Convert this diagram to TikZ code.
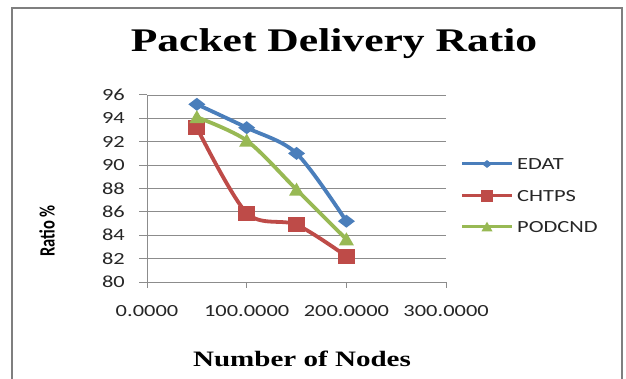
\documentclass[tikz,border=0pt]{standalone}
\usepackage{fontspec}
\usepackage{graphicx}
\setmainfont{Liberation Serif}
\newfontfamily\calfont{Carlito}
\definecolor{edatc}{HTML}{4A7EBB}
\definecolor{chtpsc}{HTML}{BE4B48}
\definecolor{podc}{HTML}{98B954}
\definecolor{gridc}{HTML}{8C8C8C}
\definecolor{framec}{HTML}{7F7F7F}
\newcommand\hstretch[1]{\scalebox{1.32}[1]{#1}}
\tikzset{
  gridline/.style={gridc, line width=0.9pt},
  axisline/.style={gridc, line width=1pt},
  ticklab/.style={inner sep=0pt, font=\calfont\fontsize{17}{20}\selectfont, text=black!85},
  serline/.style={line width=3.8pt, line cap=round, line join=round},
  legline/.style={line width=3pt},
  edatmk/.pic={\fill[edatc] (-8.5pt,0pt) -- (0pt,6.5pt) -- (8.5pt,0pt) -- (0pt,-6.5pt) -- cycle;},
  chtpsmk/.pic={\fill[chtpsc] (-8.5pt,-7.5pt) rectangle (8.5pt,7.5pt);},
  podmk/.pic={\fill[podc] (-7.5pt,-6pt) -- (7.5pt,-6pt) -- (0pt,7pt) -- cycle;},
}
\begin{document}
\begin{tikzpicture}[x=1pt,y=-1pt]
\useasboundingbox (0,0) rectangle (626,379);
\fill[white] (0,0) rectangle (626,379);
\draw[framec, line width=1.5pt] (12,379) -- (12,8) -- (622,8) -- (622,379);

% title
\node[inner sep=0pt, anchor=base, font=\bfseries\fontsize{33}{36}\selectfont] (title) at (334,52) {\hstretch{Packet Delivery Ratio}};
% axis titles
\node[inner sep=0pt, anchor=base, font=\bfseries\fontsize{22}{26}\selectfont] (xtitle) at (302,366) {\hstretch{Number of Nodes}};
\node[inner sep=0pt, rotate=90, font=\calfont\bfseries\fontsize{16.5}{20}\selectfont] (ytitle) at (47,231) {\scalebox{1}[1.32]{Ratio \%}};

\begin{scope}[shift={(147,282)}, x=0.997pt, y=11.69pt, shift={(0,-80)}]
  \foreach \v in {82,84,...,96} \draw[gridline] (0,\v) -- (300,\v);
  \draw[axisline] (0,80) -- (300,80);
  \draw[axisline] (0,80) -- (0,96);
  \foreach \v in {80,82,...,96} {
    \draw[axisline] (0,\v) -- ++(-8pt,0pt);
    \node[ticklab, anchor=east] (yl\v) at (-22,\v) {\hstretch{\v}};
  }
  \foreach \v/\t in {0/0.0000,100/100.0000,200/200.0000,300/300.0000} {
    \draw[axisline] (\v,80) -- ++(0pt,-6pt);
    \node[ticklab] (xl\v) at (\v,80) [yshift=-29.5pt] {\hstretch{\t}};
  }
  % data
  \coordinate (e1) at (50,95.2);  \coordinate (e2) at (100,93.2);
  \coordinate (e3) at (150,91.0); \coordinate (e4) at (200,85.2);
  \coordinate (c1) at (50,93.2);  \coordinate (c2) at (100,85.9);
  \coordinate (c3) at (150,84.9); \coordinate (c4) at (200,82.2);
  \coordinate (p1) at (50,94.1);  \coordinate (p2) at (100,92.1);
  \coordinate (p3) at (150,87.9); \coordinate (p4) at (200,83.65);
\end{scope}

\draw[serline, edatc] plot[smooth, tension=0.5] coordinates {(e1) (e2) (e3) (e4)};
\foreach \i in {1,...,4} \pic at (e\i) {edatmk};
\draw[serline, chtpsc] plot[smooth, tension=0.5] coordinates {(c1) (c2) (c3) (c4)};
\foreach \i in {1,...,4} \pic at (c\i) {chtpsmk};
\draw[serline, podc] plot[smooth, tension=0.5] coordinates {(p1) (p2) (p3) (p4)};
\foreach \i in {1,...,4} \pic at (p\i) {podmk};

% legend
\coordinate (la1) at (462,164); \coordinate (lb1) at (512,164); \coordinate (lm1) at (487,164);
\coordinate (la2) at (462,196); \coordinate (lb2) at (512,196); \coordinate (lm2) at (487,196);
\coordinate (la3) at (462,227); \coordinate (lb3) at (512,227); \coordinate (lm3) at (487,227);
\draw[legline, edatc] (la1) -- (lb1); \pic[scale=0.6] at (lm1) {edatmk};
\draw[legline, chtpsc] (la2) -- (lb2); \pic[scale=0.75] at (lm2) {chtpsmk};
\draw[legline, podc] (la3) -- (lb3); \pic[scale=0.75] at (lm3) {podmk};
\node[ticklab, anchor=west] (lt1) at (517,164) {\hstretch{EDAT}};
\node[ticklab, anchor=west] (lt2) at (517,196) {\hstretch{CHTPS}};
\node[ticklab, anchor=west] (lt3) at (517,227) {\hstretch{PODCND}};
\end{tikzpicture}
\end{document}
